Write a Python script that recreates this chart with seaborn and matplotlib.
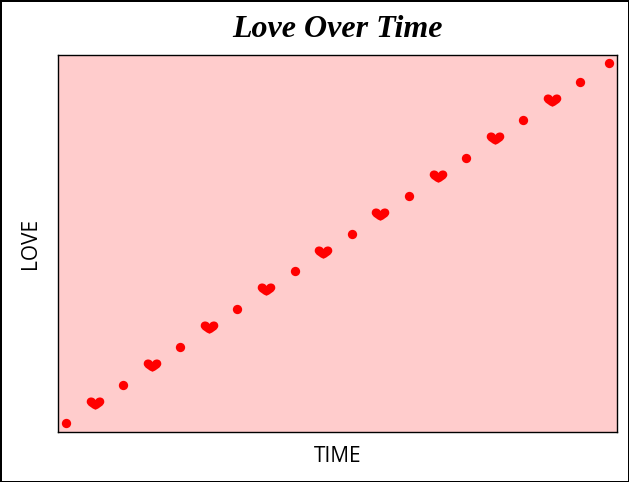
import numpy as np
import pandas as pd
import matplotlib
matplotlib.use("Agg")
import matplotlib.pyplot as plt
from matplotlib.path import Path
import seaborn as sns

# data: time step, love level, and which marker each point gets
time = [0, 1, 2, 3, 4, 5, 6, 7, 8, 9, 10, 11, 12, 13, 14, 15, 16, 17, 18, 19]
love = [0, 1, 2, 3, 4, 5, 6, 7, 8, 9, 10, 11, 12, 13, 14, 15, 16, 17, 18, 19]
kind = ["dot", "heart", "dot", "heart", "dot", "heart", "dot", "heart", "dot", "heart",
        "dot", "heart", "dot", "heart", "dot", "heart", "dot", "heart", "dot", "dot"]

df = pd.DataFrame({"time": time, "love": love, "kind": kind})

# chunky heart shaped marker
heart = Path(
    [(0, -0.6),
     (-0.35, -0.45), (-1.0, -0.1), (-1.0, 0.3),
     (-1.0, 0.65), (-0.75, 0.8), (-0.5, 0.8),
     (-0.25, 0.8), (-0.05, 0.65), (0, 0.5),
     (0.05, 0.65), (0.25, 0.8), (0.5, 0.8),
     (0.75, 0.8), (1.0, 0.65), (1.0, 0.3),
     (1.0, -0.1), (0.35, -0.45), (0, -0.6)],
    [Path.MOVETO] + [Path.CURVE4] * 18)

fig = plt.figure(figsize=(6.29, 4.82), dpi=100)
fig.patch.set_edgecolor("black")
fig.patch.set_linewidth(1)
ax = fig.add_axes([58 / 629, 1 - 432 / 482, (617 - 58) / 629, (432 - 55) / 482])
ax.set_facecolor("#ffcccc")

dots = df[df["kind"] == "dot"]
hearts = df[df["kind"] == "heart"]
sns.scatterplot(data=dots, x="time", y="love", color="red", marker="o", s=45,
                linewidth=0, ax=ax)
sns.scatterplot(data=hearts, x="time", y="love", color="red", marker=heart, s=160,
                linewidth=0, ax=ax)

ax.set_xlim(-0.28, 19.28)
ax.set_ylim(-0.47, 19.42)
ax.set_xticks([])
ax.set_yticks([])
for sp in ax.spines.values():
    sp.set_color("black")
    sp.set_linewidth(1)

ax.set_xlabel("TIME", fontsize=15, family="Open Sans", labelpad=10)
ax.set_ylabel("LOVE", fontsize=15, family="Open Sans", labelpad=12)
ax.set_title("Love Over Time", fontsize=23, family="Liberation Serif",
             style="italic", weight="bold", pad=13)

fig.savefig("out.png", dpi=100)
